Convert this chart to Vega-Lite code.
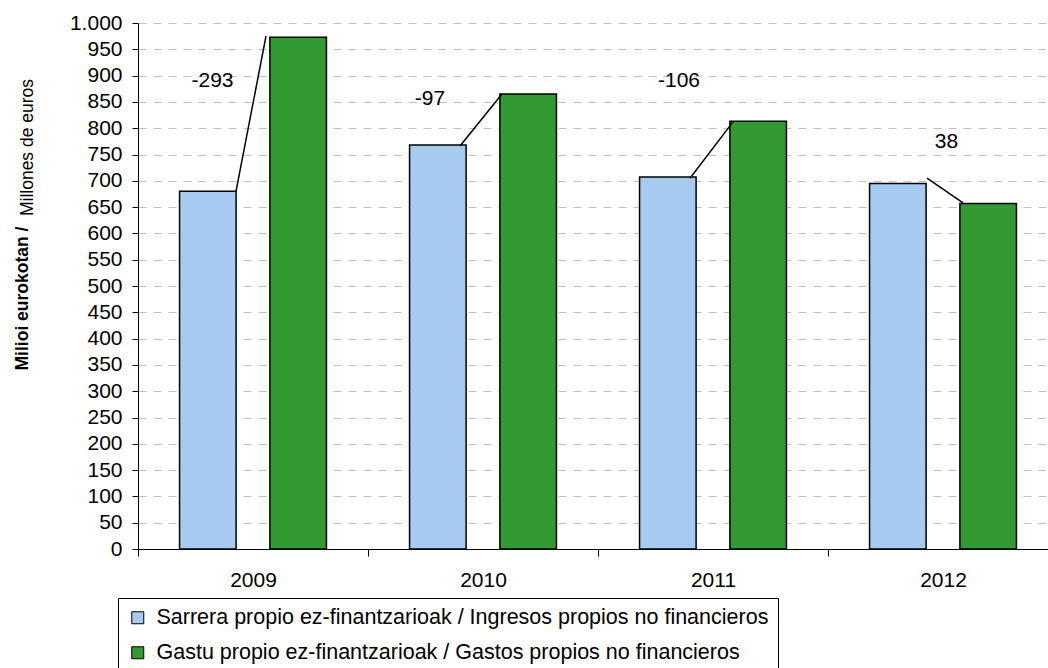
{
  "$schema": "https://vega.github.io/schema/vega-lite/v6.json",
  "width": 920,
  "height": 526,
  "autosize": {"type": "none"},
  "padding": {"left": 138, "top": 23, "right": 0, "bottom": 119},
  "background": "#ffffff",
  "config": {
    "locale": {"number": {"decimal": ",", "thousands": ".", "grouping": [3], "currency": ["", " €"]}},
    "view": {"stroke": null},
    "font": "Liberation Sans",
    "text": {"font": "Liberation Sans"}
  },
  "datasets": {
    "bars": [
      {"year": "2009", "serie": "Sarrera propio ez-finantzarioak / Ingresos propios no financieros", "value": 680},
      {"year": "2010", "serie": "Sarrera propio ez-finantzarioak / Ingresos propios no financieros", "value": 768},
      {"year": "2011", "serie": "Sarrera propio ez-finantzarioak / Ingresos propios no financieros", "value": 707},
      {"year": "2012", "serie": "Sarrera propio ez-finantzarioak / Ingresos propios no financieros", "value": 695},
      {"year": "2009", "serie": "Gastu propio ez-finantzarioak / Gastos propios no financieros", "value": 973},
      {"year": "2010", "serie": "Gastu propio ez-finantzarioak / Gastos propios no financieros", "value": 865},
      {"year": "2011", "serie": "Gastu propio ez-finantzarioak / Gastos propios no financieros", "value": 813},
      {"year": "2012", "serie": "Gastu propio ez-finantzarioak / Gastos propios no financieros", "value": 657}
    ],
    "leaders": [
      {"year": "2009", "pos": 98, "value": 680},
      {"year": "2009", "pos": 128, "value": 975},
      {"year": "2010", "pos": 92, "value": 766},
      {"year": "2010", "pos": 134, "value": 865},
      {"year": "2011", "pos": 92, "value": 705},
      {"year": "2011", "pos": 135, "value": 812},
      {"year": "2012", "pos": 99, "value": 705},
      {"year": "2012", "pos": 135, "value": 658}
    ],
    "labels": [
      {"year": "2009", "pos": 74.5, "value": 879, "label": "-293"},
      {"year": "2010", "pos": 62, "value": 845, "label": "-97"},
      {"year": "2011", "pos": 81, "value": 879, "label": "-106"},
      {"year": "2012", "pos": 118.5, "value": 763, "label": "38"}
    ]
  },
  "layer": [
    {
      "data": {"name": "bars"},
      "mark": {"type": "bar", "stroke": "#000000", "strokeWidth": 1.5},
      "encoding": {
        "x": {
          "field": "year", "type": "ordinal",
          "scale": {"paddingInner": 0, "paddingOuter": 0},
          "axis": {
            "title": null, "tickBand": "extent", "labelAngle": 0, "grid": false,
            "domainColor": "#000000", "tickColor": "#000000", "tickSize": 7,
            "labelFontSize": 21, "labelPadding": 13, "labelColor": "#000000"
          }
        },
        "xOffset": {
          "field": "serie", "type": "nominal",
          "sort": ["Sarrera propio ez-finantzarioak / Ingresos propios no financieros", "Gastu propio ez-finantzarioak / Gastos propios no financieros"],
          "scale": {"paddingInner": 0.374, "paddingOuter": 0.46}
        },
        "y": {
          "field": "value", "type": "quantitative",
          "scale": {"domain": [0, 1000]},
          "axis": {
            "title": "Milioi eurokotan /", "titleFontWeight": "bold", "titleFontSize": 17.5,
            "titleColor": "#000000", "titleAngle": 270, "titleX": -111, "titleY": 275,
            "titleBaseline": "alphabetic", "titleAlign": "center",
            "values": [0, 50, 100, 150, 200, 250, 300, 350, 400, 450, 500, 550, 600, 650, 700, 750, 800, 850, 900, 950, 1000],
            "format": ",.0f", "labelFontSize": 21, "labelPadding": 10, "labelColor": "#000000",
            "tickSize": 6, "tickColor": "#000000", "domainColor": "#000000",
            "grid": true, "gridDash": [8, 7], "gridColor": "#C0C0C0", "gridWidth": 1
          }
        },
        "color": {
          "field": "serie", "type": "nominal",
          "scale": {
            "domain": ["Sarrera propio ez-finantzarioak / Ingresos propios no financieros", "Gastu propio ez-finantzarioak / Gastos propios no financieros"],
            "range": ["#A6CAF0", "#339933"]
          },
          "legend": {
            "title": null, "orient": "none", "legendX": -20, "legendY": 575, "direction": "vertical",
            "strokeColor": "#000000", "fillColor": "#ffffff", "padding": 9,
            "labelFontSize": 21.5, "labelColor": "#000000", "labelLimit": 1000, "labelOffset": 8,
            "symbolType": "square", "symbolSize": 144, "symbolStrokeColor": "#000000",
            "symbolStrokeWidth": 1, "symbolOpacity": 1, "rowPadding": 12
          }
        }
      }
    },
    {
      "data": {"name": "leaders"},
      "mark": {"type": "line", "color": "#000000", "strokeWidth": 1.5},
      "encoding": {
        "x": {"field": "year", "type": "ordinal", "bandPosition": 0},
        "xOffset": {"field": "pos", "type": "quantitative", "scale": {"domain": [0, 230]}},
        "y": {"field": "value", "type": "quantitative", "axis": null},
        "detail": {"field": "year"},
        "order": {"field": "pos"}
      }
    },
    {
      "data": {"name": "labels"},
      "mark": {"type": "text", "fontSize": 21, "baseline": "alphabetic", "align": "center", "color": "#000000"},
      "encoding": {
        "x": {"field": "year", "type": "ordinal", "bandPosition": 0},
        "xOffset": {"field": "pos", "type": "quantitative", "scale": {"domain": [0, 230]}},
        "y": {
          "field": "value", "type": "quantitative",
          "axis": {
            "orient": "left", "title": "Millones de euros", "titleFontWeight": "normal", "titleFontSize": 17.5,
            "titleColor": "#000000", "titleAngle": 270, "titleX": -106, "titleY": 124,
            "titleBaseline": "alphabetic", "titleAlign": "center",
            "labels": false, "ticks": false, "domain": false, "grid": false
          }
        },
        "text": {"field": "label"}
      }
    }
  ],
  "resolve": {"scale": {"xOffset": "independent"}, "axis": {"y": "independent"}}
}
